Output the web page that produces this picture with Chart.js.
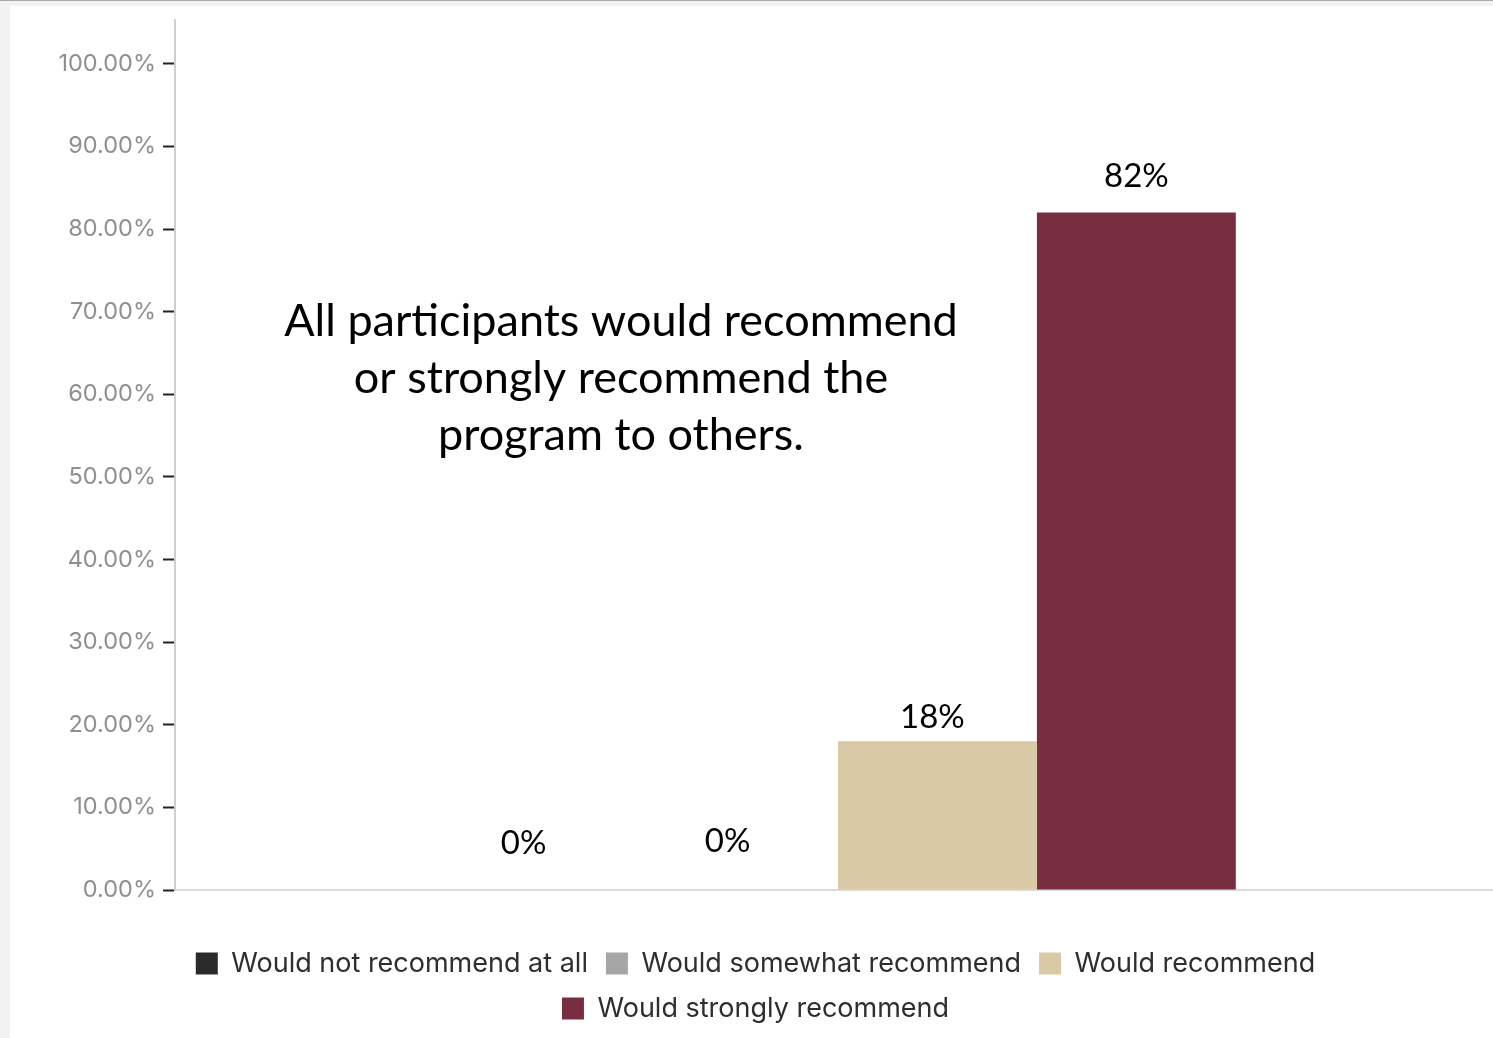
<!DOCTYPE html>
<html>
<head>
<meta charset="utf-8">
<script src="https://cdn.jsdelivr.net/npm/chart.js@4.4.1/dist/chart.umd.min.js"></script>
<style>
  html, body { margin: 0; padding: 0; }
  body {
    width: 1493px; height: 1038px; overflow: hidden;
    background: #f2f2f2; border-top: 1px solid #a9a9a9; box-sizing: border-box;
    position: relative;
  }
  #wrap {
    position: absolute; left: 10px; top: 5px; width: 1491px; height: 1032px;
    background: #ffffff;
  }
</style>
</head>
<body>
<div id="wrap"><canvas id="chart"></canvas></div>
<script>
// Survey responses: how strongly participants would recommend the program
const categories = ['Recommendation'];
const seriesNames = [
  'Would not recommend at all',
  'Would somewhat recommend',
  'Would recommend',
  'Would strongly recommend'
];
const seriesValues = [0, 0, 18, 82];
const seriesColors = ['#2b2a2b', '#a6a6a6', '#d9c9a4', '#782d41'];
const yTickValues = [0, 10, 20, 30, 40, 50, 60, 70, 80, 90, 100];
const noteLines = [
  'All participants would recommend',
  'or strongly recommend the',
  'program to others.'
];

const datasets = seriesNames.map((name, i) => ({
  label: name,
  data: [seriesValues[i]],
  backgroundColor: seriesColors[i],
  borderWidth: 0,
  categoryPercentage: 0.6,
  barPercentage: 1.0
}));

// Percentage text above each bar
const valueLabels = {
  id: 'valueLabels',
  afterDatasetsDraw(chart, args, opts) {
    const ctx = chart.ctx;
    ctx.save();
    ctx.font = opts.font;
    ctx.fillStyle = opts.color;
    ctx.textAlign = 'center';
    ctx.textBaseline = 'middle';
    chart.data.datasets.forEach((ds, i) => {
      const bar = chart.getDatasetMeta(i).data[0];
      const n = opts.nudge[i];
      ctx.fillText(ds.data[0] + '%', bar.x + n.dx, bar.y - n.dy);
    });
    ctx.restore();
  }
};

// Free-floating note in the plot area
const noteText = {
  id: 'noteText',
  afterDraw(chart, args, opts) {
    const ctx = chart.ctx;
    const yScale = chart.scales.y;
    const xScale = chart.scales.x;
    const y0 = yScale.getPixelForValue(opts.atValue);
    const x = xScale.left + opts.xOffset;
    ctx.save();
    ctx.font = opts.font;
    ctx.fillStyle = opts.color;
    ctx.textAlign = 'center';
    ctx.textBaseline = 'middle';
    noteLines.forEach((line, i) => ctx.fillText(line, x, y0 + i * opts.lineGap));
    ctx.restore();
  }
};

new Chart(document.getElementById('chart'), {
  type: 'bar',
  data: { labels: categories, datasets },
  plugins: [valueLabels, noteText],
  options: {
    responsive: true,
    maintainAspectRatio: false,
    animation: false,
    layout: { padding: { top: 14, right: 0, bottom: 6, left: 0 } },
    scales: {
      x: {
        ticks: { display: false },
        grid: { display: false },
        border: { display: true, color: '#dcdcdc', width: 2 },
        afterFit(scale) { scale.height = 42; }
      },
      y: {
        min: 0,
        max: 105.3,
        ticks: {
          stepSize: 10,
          padding: 7,
          color: '#8f8f8f',
          font: { family: 'Inter', size: 23.5, lineHeight: 0.4 },
          callback: v => v.toFixed(2) + '%'
        },
        afterBuildTicks(scale) {
          scale.ticks = yTickValues.map(v => ({ value: v }));
        },
        afterFit(scale) { scale.width = 165; },
        grid: {
          drawOnChartArea: false,
          drawTicks: true,
          tickLength: 12,
          tickColor: '#222222',
          tickWidth: 2
        },
        border: { display: true, color: '#cfcfcf', width: 2 }
      }
    },
    plugins: {
      legend: {
        position: 'bottom',
        labels: {
          boxWidth: 22,
          boxHeight: 22,
          padding: 18,
          color: '#2e2e2e',
          font: { family: 'Inter', size: 27 }
        }
      },
      tooltip: { enabled: false },
      valueLabels: {
        font: '33px Lato',
        color: '#000000',
        nudge: [
          { dx: -16, dy: 47 },
          { dx: -11, dy: 49 },
          { dx: -5, dy: 24 },
          { dx: 0, dy: 36 }
        ]
      },
      noteText: {
        font: '45px Lato',
        color: '#000000',
        xOffset: 446,
        atValue: 68.8,
        lineGap: 57
      }
    }
  }
});
</script>
</body>
</html>
